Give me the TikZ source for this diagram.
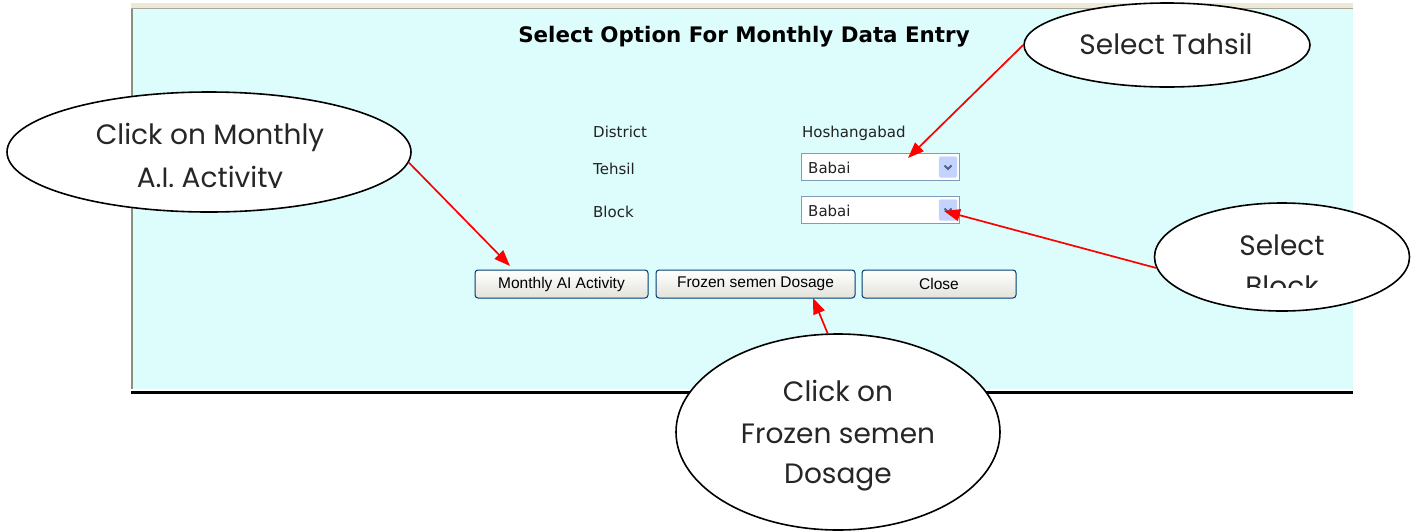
\documentclass[tikz,border=0pt]{standalone}
\usepackage{fontspec}
\setmainfont{DejaVu Sans}
\newfontfamily\calloutfont{Poppins}
\newfontfamily\uifont{DejaVu Sans}
\newfontfamily\btnfont{Liberation Sans}
\usetikzlibrary{shapes.geometric,arrows.meta}

\definecolor{panelbg}{HTML}{DDFCFC}
\definecolor{topbar}{HTML}{ECE9D8}
\definecolor{topline}{HTML}{ACA899}
\definecolor{sideline}{HTML}{8E8E80}
\definecolor{comboedge}{HTML}{7F9DB9}
\definecolor{combobtn}{HTML}{C3D3FD}
\definecolor{chevron}{HTML}{4D6185}
\definecolor{btnedge}{HTML}{003C74}
\definecolor{btnlow}{HTML}{E3E2DA}
\definecolor{uitext}{HTML}{222222}

\begin{document}
\begin{tikzpicture}[x=1pt,y=-1pt,
  callout/.style={ellipse, draw=black, line width=1.6pt, fill=white, inner sep=0pt},
  callouttext/.style={font=\calloutfont\fontsize{28}{35}\selectfont, text=black!85, anchor=base, inner sep=0pt},
  pointer/.style={draw=red, line width=1.7pt, -{Triangle[length=16pt,width=12pt]}},
  fieldlabel/.style={font=\uifont\fontsize{15}{18}\selectfont, text=uitext, anchor=base west, inner sep=0pt},
  combo/.style={draw=comboedge, fill=white, line width=1pt, minimum width=158pt, minimum height=27pt, inner sep=0pt},
  combobutton/.style={fill=combobtn, draw=combobtn!80!white, rounded corners=1.5pt, minimum width=18pt, minimum height=21pt, inner sep=0pt},
  formbutton/.style={draw=btnedge, line width=1pt, rounded corners=3pt, top color=white, bottom color=btnlow,
    minimum height=28pt, inner sep=0pt, font=\btnfont\fontsize{15.5}{18}\selectfont, text=black}
]
\useasboundingbox (0,0) rectangle (1416,531);

% window frame
\fill[panelbg] (131,9) rectangle (1353,389);
\fill[topbar] (131,3) rectangle (1353,8);
\draw[topline, line width=1.5pt] (131,8.5) -- (1353,8.5);
\draw[sideline, line width=2pt] (132,9) -- (132,389);
\draw[black, line width=3pt] (131,392) -- (1353,392);

% heading
\node[font=\uifont\bfseries\fontsize{21.4}{24}\selectfont, anchor=base, inner sep=0pt] (title) at (744,42) {Select Option For Monthly Data Entry};

% form fields
\node[fieldlabel] (lbldistrict) at (593,137) {District};
\node[fieldlabel] (lbltehsil) at (593,174) {Tehsil};
\node[fieldlabel] (lblblock) at (593,217) {Block};
\node[fieldlabel] (valdistrict) at (802,137) {Hoshangabad};

\node[combo] (tehsilbox) at (880.5,167) {};
\node[combo] (blockbox) at (880.5,210) {};
\node[fieldlabel] (tehsilval) at (808,173) {Babai};
\node[fieldlabel] (blockval) at (808,216) {Babai};
\node[combobutton] (tehsilbtn) at (948,167) {};
\node[combobutton] (blockbtn) at (948,210) {};
\foreach \b in {tehsilbtn,blockbtn}
  \draw[chevron, line width=1.8pt] ([xshift=-3.5pt,yshift=1.5pt]\b.center) -- ([yshift=-2pt]\b.center) -- ([xshift=3.5pt,yshift=1.5pt]\b.center);

% buttons
\node[formbutton, minimum width=173pt] (btnmonthly) at (561.5,284) {Monthly AI Activity};
\node[formbutton, minimum width=199pt] (btnfrozen) at (755.5,284) {Frozen semen Dosage};
\node[formbutton, minimum width=154pt] (btnclose) at (939,284) {Close};

% callouts
\node[callout, minimum width=286pt, minimum height=84pt] (tahsil) at (1167,45) {};
\node[callouttext] (tahsiltxt) at (1166,54) {Select Tahsil};

\node[callout, minimum width=404pt, minimum height=120pt] (monthly) at (209,152) {};
\node[callouttext] (monthlytxt1) at (210,144) {Click on Monthly};
\begin{scope}
  \clip (0,0) rectangle (1416,187);
  \node[callouttext] (monthlytxt2) at (210,187) {A.I. Activity};
\end{scope}

\node[callout, minimum width=255pt, minimum height=108pt] (block) at (1282,257) {};
\node[callouttext] (blocktxt1) at (1282,255) {Select};
\begin{scope}
  \clip (0,0) rectangle (1416,287);
  \node[callouttext] (blocktxt2) at (1282,296) {Block};
\end{scope}

\node[callout, minimum width=324pt, minimum height=196pt] (frozen) at (838,432) {};
\node[callouttext] (frozentxt1) at (838,401) {Click on};
\node[callouttext] (frozentxt2) at (838,443) {Frozen semen};
\node[callouttext] (frozentxt3) at (838,483) {Dosage};

% pointer targets
\coordinate (tehsiltip) at (908,158);
\coordinate (monthlytip) at (510,266);
\coordinate (blocktip) at (944,211);
\coordinate (frozentip) at (813,298);

\draw[pointer] (tahsil.west) -- (tehsiltip);
\draw[pointer] (monthly.-3) -- (monthlytip);
\draw[pointer] (block.185) -- (blocktip);
\draw[pointer] (frozen.96) -- (frozentip);
\end{tikzpicture}
\end{document}
